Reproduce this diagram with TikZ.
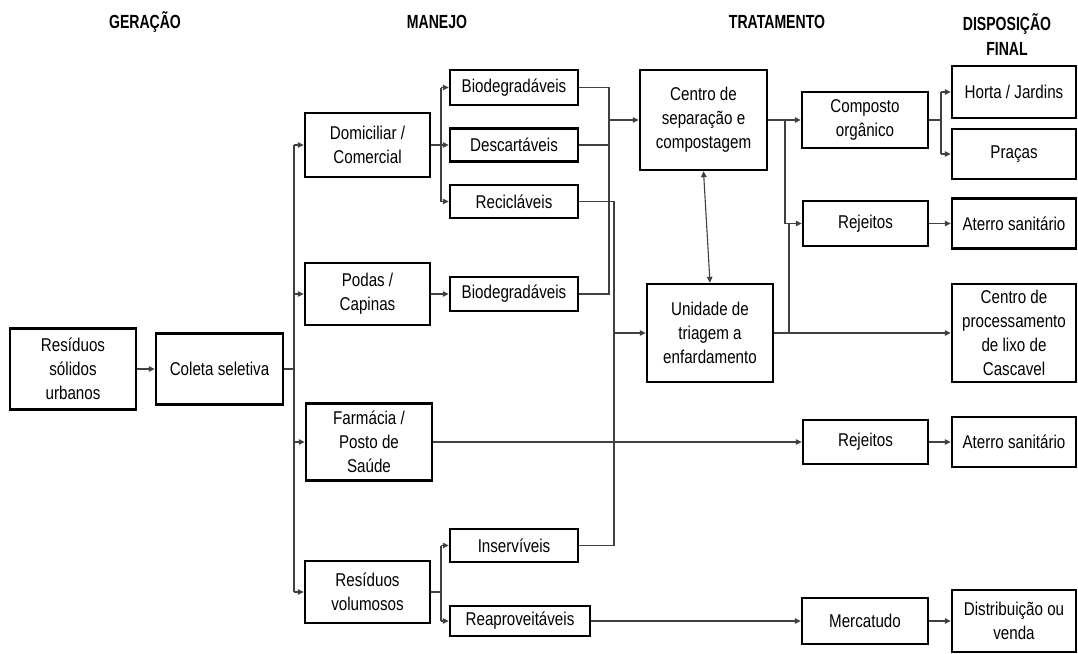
\documentclass[tikz,border=0pt]{standalone}
\usepackage{fontspec}
\setmainfont{Liberation Sans}[FakeStretch=0.82]
\newfontfamily\hdrfont{Liberation Sans}[FakeStretch=0.74]
\usetikzlibrary{arrows.meta}
\begin{document}
\begin{tikzpicture}[x=1pt,y=-1pt,
 box/.style={draw=black, line width=2.4pt, align=center, inner sep=0pt, font=\fontsize{18.5}{24}\selectfont},
 sz/.style 2 args={minimum width=#1pt, minimum height=#2pt},
 wire/.style={draw=black!75, line width=1.1pt},
 arr/.style={wire, -{Triangle[length=6pt,width=5.5pt]}},
 arrtwo/.style={wire, {Triangle[length=6pt,width=5.5pt]}-{Triangle[length=6pt,width=5.5pt]}},
 hdr/.style={font=\hdrfont\bfseries\fontsize{19}{25}\selectfont, align=center, inner sep=0pt}]
\useasboundingbox (0,0) rectangle (1078,653);
% headers
\node[hdr] (hg) at (145,22) {GERAÇÃO};
\node[hdr] (hm) at (437,22) {MANEJO};
\node[hdr] (ht) at (777,22) {TRATAMENTO};
\node[hdr] (hd) at (1007,35) {DISPOSIÇÃO\\FINAL};
% boxes
\node[box, sz={126}{81}] (rsu) at (73,369) {Resíduos\\sólidos\\urbanos};
\node[box, sz={127}{71}] (col) at (219.5,369) {Coleta seletiva};
\node[box, sz={125}{64}] (dom) at (367.5,145) {Domiciliar /\\Comercial};
\node[box, sz={125}{62}] (pod) at (367.5,294) {Podas /\\Capinas};
\node[box, sz={126}{77}] (far) at (369,442) {Farmácia /\\Posto de\\Saúde};
\node[box, sz={125}{62}] (vol) at (367.5,592) {Resíduos\\volumosos};
\node[box, sz={128}{35}] (bio1) at (514,87.5) {Biodegradáveis};
\node[box, sz={128}{33}] (des) at (514,145) {Descartáveis};
\node[box, sz={128}{33}] (rec) at (514,201.5) {Recicláveis};
\node[box, sz={128}{34}] (bio2) at (514,294) {Biodegradáveis};
\node[box, sz={128}{33}] (ins) at (514,545.5) {Inservíveis};
\node[box, sz={140}{30}] (rea) at (520,621) {Reaproveitáveis};
\node[box, sz={127}{100}] (cs) at (703.5,120) {Centro de\\separação e\\compostagem};
\node[box, sz={126}{98}] (un) at (710,333) {Unidade de\\triagem a\\enfardamento};
\node[box, sz={126}{56}] (comp) at (865,120) {Composto\\orgânico};
\node[box, sz={125}{45}] (rej1) at (865.5,223.5) {Rejeitos};
\node[box, sz={125}{44}] (rej2) at (865.5,442) {Rejeitos};
\node[box, sz={126}{46}] (merc) at (865,621) {Mercatudo};
\node[box, sz={124}{52}] (horta) at (1014,92) {Horta / Jardins};
\node[box, sz={124}{50}] (pracas) at (1014,154) {Praças};
\node[box, sz={124}{50}] (at1) at (1014,223.5) {Aterro sanitário};
\node[box, sz={124}{98}] (cp) at (1014,333) {Centro de\\processamento\\de lixo de\\Cascavel};
\node[box, sz={124}{50}] (at2) at (1014,442) {Aterro sanitário};
\node[box, sz={124}{62}] (dist) at (1014,621) {Distribuição ou\\venda};
% bus coordinates
\coordinate (b0) at (294,369);
\coordinate (b1) at (441,145);
\coordinate (b2) at (609,120);
\coordinate (b3) at (614,333);
\coordinate (b4) at (785,120);
\coordinate (b5) at (789,333);
\coordinate (b6) at (941,120);
% connectors
\draw[arr] (rsu) -- (col);
\draw[wire] (col.east) -- (b0);
\draw[wire] (b0 |- dom.west) -- (b0 |- vol.west);
\foreach \n in {dom,pod,far,vol} \draw[arr] (b0 |- \n.west) -- (\n.west);
\draw[wire] (dom.east) -- (b1 |- dom.east);
\draw[wire] (b1 |- bio1.west) -- (b1 |- rec.west);
\foreach \n in {bio1,des,rec} \draw[arr] (b1 |- \n.west) -- (\n.west);
\draw[arr] (pod) -- (bio2);
\draw[wire] (vol.east) -- (b1 |- vol.east);
\draw[wire] (b1 |- ins.west) -- (b1 |- rea.west);
\foreach \n in {ins,rea} \draw[arr] (b1 |- \n.west) -- (\n.west);
\draw[wire] (bio1.east) -- (b2 |- bio1.east) -- (b2 |- bio2.east) -- (bio2.east);
\draw[wire] (des.east) -- (b2 |- des.east);
\draw[arr] (b2) -- (cs.west);
\draw[wire] (rec.east) -- (b3 |- rec.east) -- (b3 |- ins.east) -- (ins.east);
\draw[arr] (b3) -- (un.west);
\draw[arrtwo] (cs.south) -- (un.north);
\draw[arr] (cs) -- (comp);
\draw[wire] (b4) -- (b4 |- rej1.west);
\draw[arr] (b4 |- rej1.west) -- (rej1.west);
\draw[arr] (un) -- (cp);
\draw[wire] (b5) -- (b5 |- rej1.west);
\draw[wire] (comp.east) -- (b6);
\draw[wire] (b6 |- horta.west) -- (b6 |- pracas.west);
\foreach \n in {horta,pracas} \draw[arr] (b6 |- \n.west) -- (\n.west);
\draw[arr] (rej1) -- (at1);
\draw[arr] (far) -- (rej2);
\draw[arr] (rej2) -- (at2);
\draw[arr] (rea) -- (merc);
\draw[arr] (merc) -- (dist);
\end{tikzpicture}
\end{document}
